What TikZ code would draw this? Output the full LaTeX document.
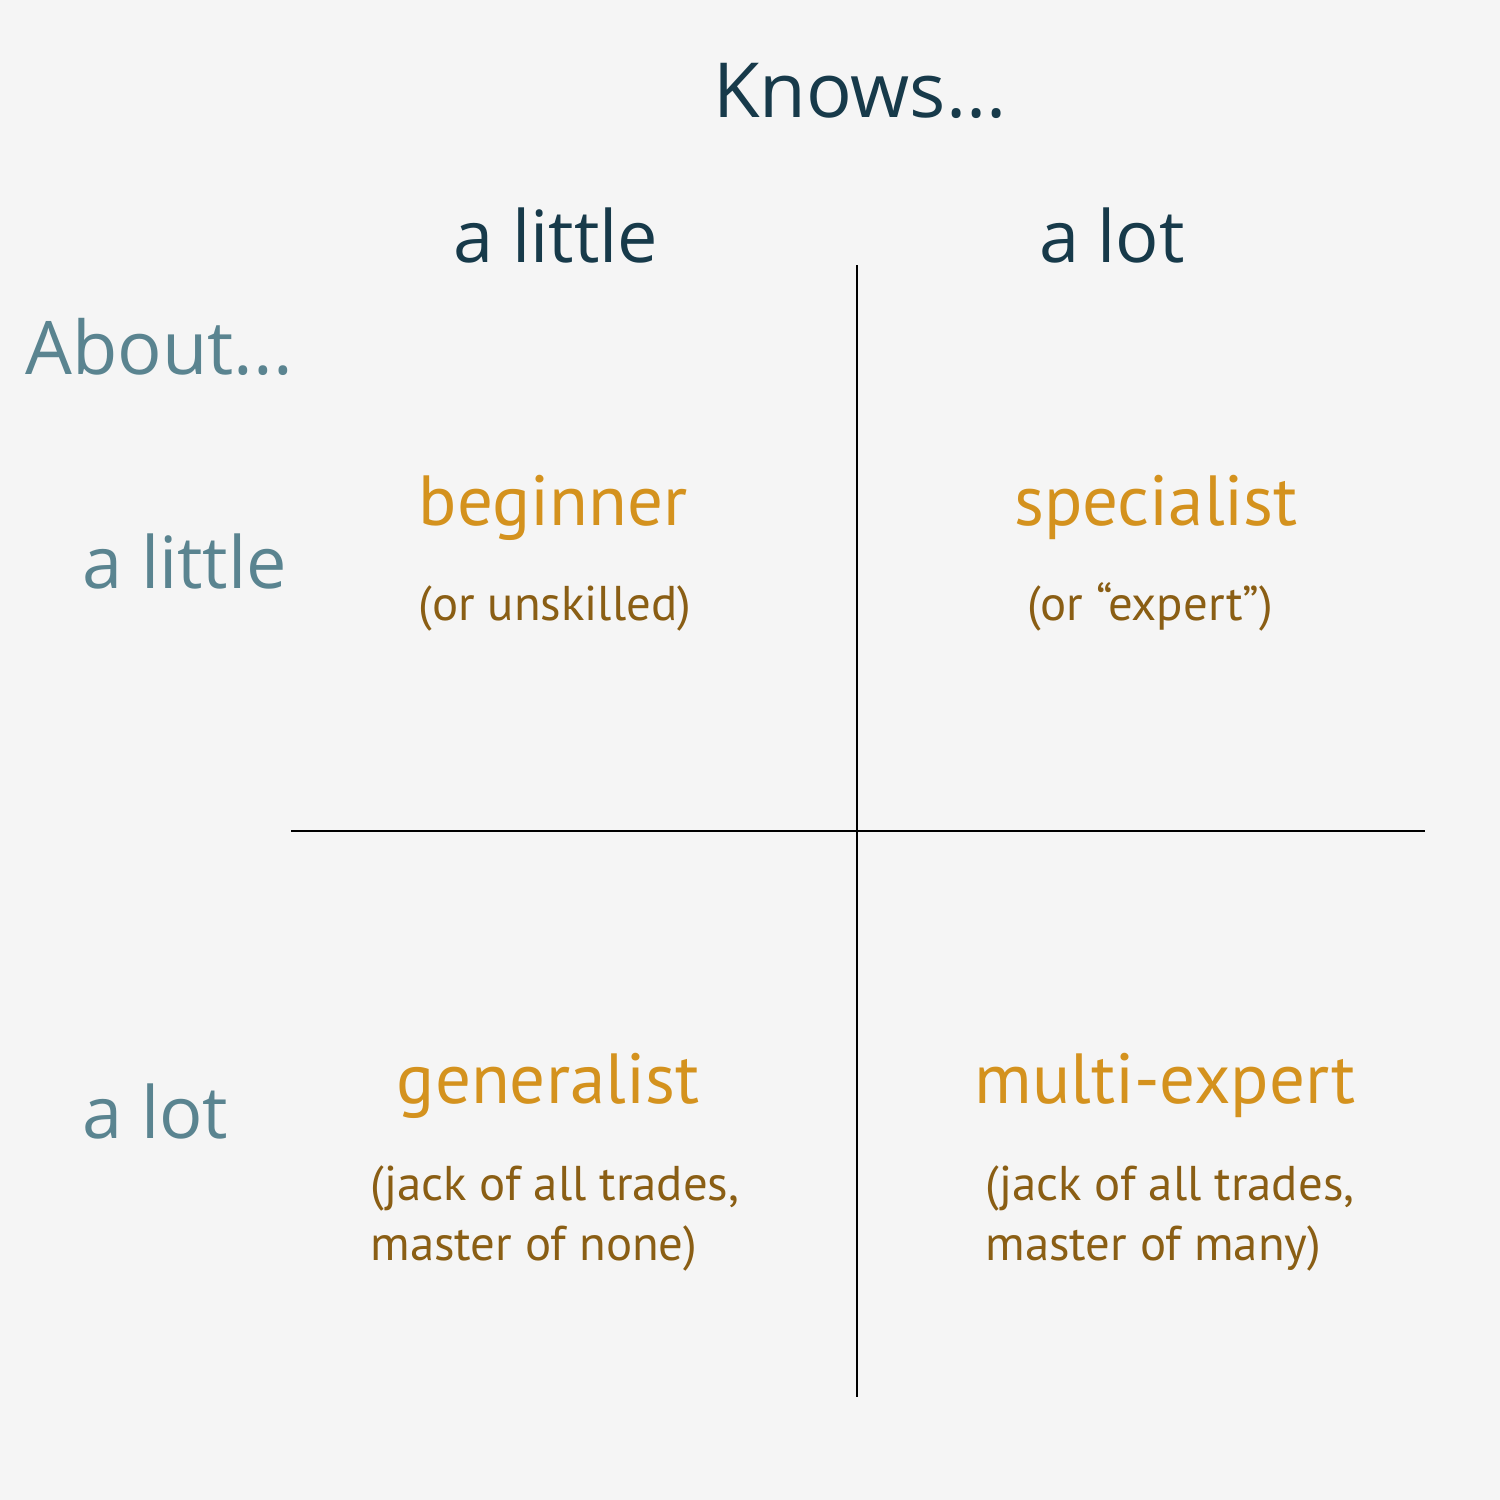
\documentclass[tikz,border=0pt]{standalone}
\usepackage{fontspec}
\setmainfont{Open Sans}
\newfontfamily\quadfont{PT Sans}
\definecolor{bgc}{HTML}{F5F5F5}
\definecolor{navy}{HTML}{173A4A}
\definecolor{teal}{HTML}{5A8490}
\definecolor{gold}{HTML}{D4921E}
\definecolor{brown}{HTML}{8A5E14}
\begin{document}
\begin{tikzpicture}[x=0.5pt,y=-0.5pt,
  colhead/.style={anchor=base,inner sep=0pt,text=navy,font=\fontsize{36}{42}\selectfont},
  rowhead/.style={anchor=base west,inner sep=0pt,text=teal,font=\fontsize{36}{42}\selectfont},
  qtitle/.style={anchor=base,inner sep=0pt,text=gold,font=\quadfont\fontsize{35.5}{40}\selectfont},
  qsub/.style={inner sep=0pt,text=brown,align=left,font=\quadfont\fontsize{24.4}{30}\selectfont},
  gridline/.style={draw=black,line width=0.7pt}]
\fill[bgc] (0,0) rectangle (1500,1500);
\useasboundingbox (0,0) rectangle (1500,1500);
\coordinate (vt) at (857,265);
\coordinate (vb) at (857,1397);
\coordinate (hl) at (291,831);
\coordinate (hr) at (1425,831);
\draw[gridline] (vt) -- (vb);
\draw[gridline] (hl) -- (hr);
\node[colhead,font=\fontsize{38}{44}\selectfont] (knows) at (860,117) {Knows...};
\node[colhead] (cl) at (556,262) {a little};
\node[colhead] (cr) at (1112,262) {a lot};
\node[rowhead,font=\fontsize{37}{42}\selectfont] (about) at (25,374) {About...};
\node[rowhead] (rl) at (82,588) {a little};
\node[rowhead] (rr) at (82,1138) {a lot};
\node[qtitle] (beg) at (553,525) {beginner};
\node[qtitle] (spec) at (1156,525) {specialist};
\node[qtitle] (gen) at (548,1103) {generalist};
\node[qtitle] (multi) at (1165,1103) {multi-expert};
\node[qsub,anchor=base] (begs) at (555,620) {(or unskilled)};
\node[qsub,anchor=base] (specs) at (1150,620) {(or “expert”)};
\node[qsub,anchor=base west] (gens) at (370,1260) {(jack of all trades,\\master of none)};
\node[qsub,anchor=base west] (multis) at (985,1260) {(jack of all trades,\\master of many)};
\end{tikzpicture}
\end{document}
